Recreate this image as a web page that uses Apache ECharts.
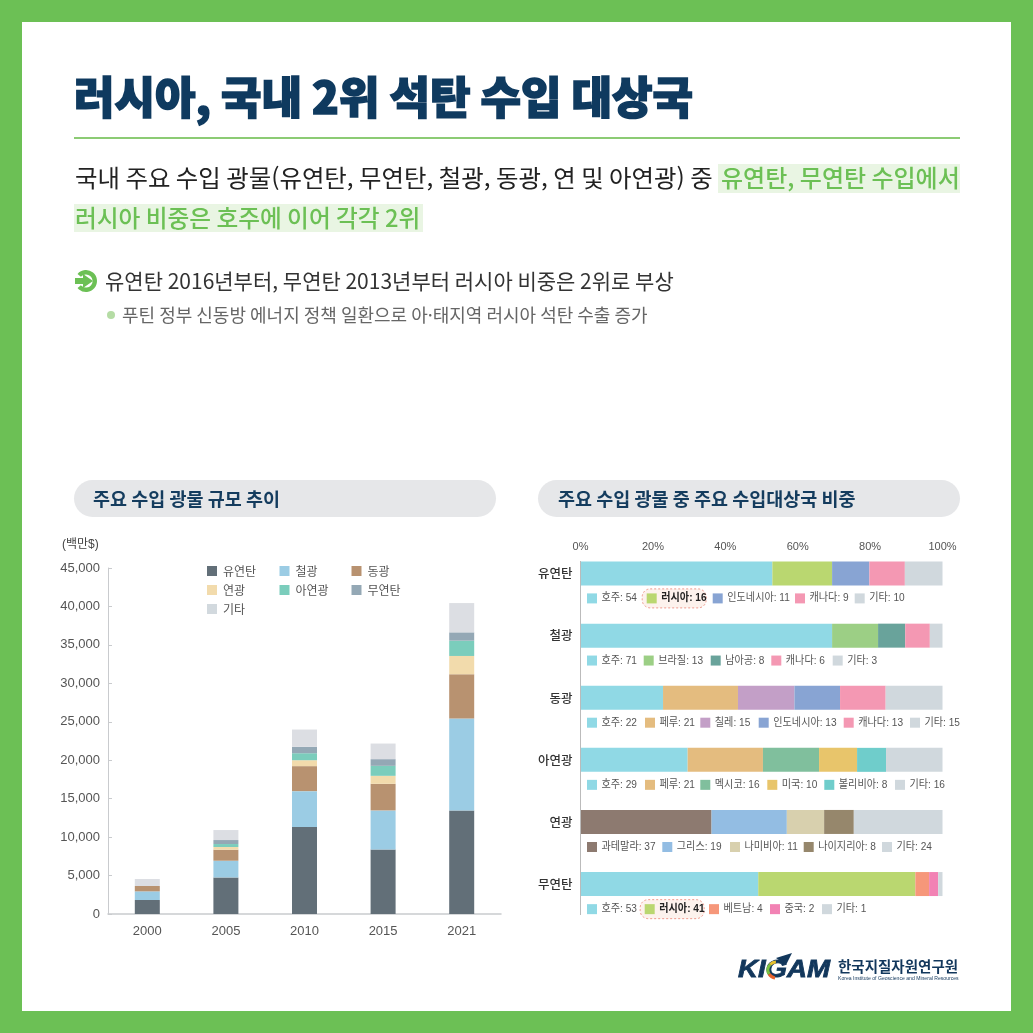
<!DOCTYPE html>
<html lang="ko">
<head>
<meta charset="utf-8">
<title>러시아, 국내 2위 석탄 수입 대상국</title>
<style>
	html, body { margin: 0; padding: 0; background: #fff; }
	#main { width: 1033px; height: 1033px; }
</style>
<script src="https://cdn.jsdelivr.net/npm/echarts@6/dist/echarts.min.js"></script>
</head>
<body>
<div id="main"></div>
<script>
// left chart, 백만$
const years = ["2000", "2005", "2010", "2015", "2021"];
const coal = [1820, 4760, 11300, 8400, 13470];
const iron = [1125, 2170, 4680, 5070, 11950];
const copper = [695, 1430, 3250, 3460, 5760];
const lead = [0, 350, 770, 1040, 2380];
const zinc = [0, 390, 910, 1300, 1990];
const anthracite = [0, 520, 830, 870, 1080];
const others = [910, 1300, 2250, 2030, 3810];

// right chart, one list per mineral
const minerals = ["유연탄", "철광", "동광", "아연광", "연광", "무연탄"];
const countries = [
	["호주", "러시아", "인도네시아", "캐나다", "기타"],
	["호주", "브라질", "남아공", "캐나다", "기타"],
	["호주", "페루", "칠레", "인도네시아", "캐나다", "기타"],
	["호주", "페루", "멕시코", "미국", "볼리비아", "기타"],
	["과테말라", "그리스", "나미비아", "나이지리아", "기타"],
	["호주", "러시아", "베트남", "중국", "기타"],
];
// numbers printed in the legends
const printedShares = [
	[54, 16, 11, 9, 10],
	[71, 13, 8, 6, 3],
	[22, 21, 15, 13, 13, 15],
	[29, 21, 16, 10, 8, 16],
	[37, 19, 11, 8, 24],
	[53, 41, 4, 2, 1],
];
// bar lengths as drawn, they differ a little from the printed numbers
const drawnShares = [
	[53, 16.5, 10.3, 9.8, 10.4],
	[69.5, 12.7, 7.5, 6.8, 3.5],
	[22.8, 20.7, 15.6, 12.6, 12.6, 15.7],
	[29.6, 20.8, 15.5, 10.5, 8, 15.6],
	[36.2, 20.8, 10.3, 8.2, 24.5],
	[49.1, 43.4, 3.8, 2.5, 1.2],
];

const countryColors = {
	호주: "#90d9e5", 러시아: "#bad770", 인도네시아: "#88a4d3", 캐나다: "#f498b3", 기타: "#d0d8dd",
	브라질: "#9ccf85", 남아공: "#69a39b", 페루: "#e4bc7f", 칠레: "#c39fc7", 멕시코: "#80bf9d",
	미국: "#e8c56b", 볼리비아: "#6fcdcb", 과테말라: "#8d7a70", 그리스: "#93bde3", 나미비아: "#d8d0ae",
	나이지리아: "#96876c", 베트남: "#f6977a", 중국: "#f282b4",
};

const sans = '"Liberation Sans", "Noto Sans CJK KR", sans-serif';
const kr = '"Noto Sans CJK KR", sans-serif';
const legendX = [
	[587, 646.7, 712.7, 795, 854.7],
	[587, 643.7, 710.7, 771.3, 832.7],
	[587, 645, 700.3, 758.7, 843.7, 910],
	[587, 645, 700.3, 767.3, 824.3, 895],
	[587, 662.3, 730, 803.7, 882],
	[587, 644.7, 709, 770, 822],
];

function text(str, x, y, size, fill, weight, family, scaleX) {
	return {
		type: "text",
		x: x,
		y: y,
		z: 20,
		scaleX: scaleX || 1,
		style: {
			text: str,
			fontSize: size,
			fontWeight: weight || 400,
			fontFamily: family || kr,
			fill: fill,
			textAlign: "left",
			textVerticalAlign: "middle",
		},
	};
}

function rect(x, y, w, h, fill, r) {
	return { type: "rect", z: 0, shape: { x: x, y: y, width: w, height: h, r: r || 0 }, style: { fill: fill } };
}

function pageGraphics() {
	const g = [];
	g.push(rect(0, 0, 1033, 1033, "#6cc055"));
	g.push(rect(22, 22, 989, 989, "#ffffff"));
	const title = text("러시아, 국내 2위 석탄 수입 대상국", 74, 97, 44, "#0f3a5f", 900);
	title.style.stroke = "#0f3a5f";
	title.style.lineWidth = 1.6;
	g.push(title);
	g.push(rect(74, 137, 886, 2, "#8ccb74"));

	g.push(rect(718, 164, 242, 29, "#e9f5e3"));
	g.push(rect(74, 204, 349, 28, "#e9f5e3"));
	g.push(text("국내 주요 수입 광물(유연탄, 무연탄, 철광, 동광, 연 및 아연광) 중", 75, 178, 24, "#222222", 400, kr, 1.0176));
	g.push(text("유연탄, 무연탄 수입에서", 721, 178, 24, "#6cc055", 500));
	g.push(text("러시아 비중은 호주에 이어 각각 2위", 75, 218, 23.7, "#6cc055", 500));

	// arrow bullet
	g.push({ type: "arc", z: 6, shape: { cx: 86, cy: 281, r: 8.8, startAngle: -2.45, endAngle: 2.45 }, style: { fill: "none", stroke: "#6cc055", lineWidth: 4.4 } });
	g.push({ type: "polygon", z: 7, shape: { points: [[83, 274], [93, 281], [83, 288], [83, 284], [75, 284], [75, 278], [83, 278]] }, style: { fill: "#6cc055" } });
	g.push(text("유연탄 2016년부터, 무연탄 2013년부터 러시아 비중은 2위로 부상", 105, 281, 21, "#333333", 400));
	g.push({ type: "circle", z: 6, shape: { cx: 111, cy: 315, r: 4 }, style: { fill: "#b5dca5" } });
	g.push(text("푸틴 정부 신동방 에너지 정책 일환으로 아·태지역 러시아 석탄 수출 증가", 122, 315, 18, "#666666", 400));

	g.push(rect(74, 480, 422, 37, "#e6e7e9", 18.5));
	g.push(rect(538, 480, 422, 37, "#e6e7e9", 18.5));
	g.push(text("주요 수입 광물 규모 추이", 93, 499, 18.5, "#143c5e", 700));
	g.push(text("주요 수입 광물 중 주요 수입대상국 비중", 558, 499, 18.5, "#143c5e", 700));
	g.push(text("(백만$)", 62, 545, 12, "#444444", 400, sans));

	// axis line of the right chart starts at the first bar, not at the grid top
	g.push({ type: "line", z: 6, shape: { x1: 580.5, y1: 561, x2: 580.5, y2: 915 }, style: { stroke: "#bbbbbb", lineWidth: 1 } });

	minerals.forEach((mineral, i) => {
		const y = 598.4 + i * 62.15;
		countries[i].forEach((name, j) => {
			const x = legendX[i][j];
			const russia = name === "러시아";
			if (russia) {
				g.push({
					type: "rect",
					z: 6,
					shape: { x: x - 4.5, y: y - 9.5, width: 64, height: 19, r: 8 },
					style: { fill: "#fdf2ed", stroke: "#ef9a8e", lineWidth: 1, lineDash: [2, 2] },
				});
			}
			g.push(Object.assign(rect(x, y - 5, 10, 10, countryColors[name]), { z: 7 }));
			g.push(text(name + ": " + printedShares[i][j], x + 14.5, y, 11, russia ? "#222222" : "#555555", russia ? 700 : 400, sans, 0.92));
		});
	});

	// logo
	const logo = text("KIGAM", 738, 970.5, 24, "#12375c", 700, '"Liberation Sans", sans-serif', 1.15);
	logo.style.fontStyle = "italic";
	logo.style.stroke = "#12375c";
	logo.style.lineWidth = 0.8;
	g.push(logo);
	g.push({ type: "arc", z: 21, shape: { cx: 776, cy: 970, r: 8, startAngle: 2.6, endAngle: 3.9 }, style: { fill: "none", stroke: "#7cc142", lineWidth: 3 } });
	g.push({ type: "arc", z: 21, shape: { cx: 776, cy: 970, r: 8, startAngle: 1.7, endAngle: 2.6 }, style: { fill: "none", stroke: "#e8622c", lineWidth: 3 } });
	g.push({ type: "arc", z: 21, shape: { cx: 776, cy: 970, r: 8, startAngle: 3.9, endAngle: 4.7 }, style: { fill: "none", stroke: "#e9c22e", lineWidth: 3 } });
	g.push({ type: "polygon", z: 21, shape: { points: [[776, 958], [792, 953], [786, 965]] }, style: { fill: "#12375c" } });
	g.push(text("한국지질자원연구원", 838, 966.5, 14.5, "#12375c", 700));
	g.push(text("Korea Institute of Geoscience and Mineral Resources", 838, 978.5, 5.1, "#12375c", 400, sans));
	return g;
}

function leftSeries(name, values, color) {
	return { name: name, type: "bar", stack: "total", barWidth: 25, xAxisIndex: 0, yAxisIndex: 0, data: values, itemStyle: { color: color } };
}

// slot n holds the n-th country of every mineral
function rightSeries() {
	const series = [];
	for (let slot = 0; slot < 6; slot++) {
		series.push({
			name: "slot" + slot,
			type: "bar",
			stack: "share",
			barWidth: 24,
			xAxisIndex: 1,
			yAxisIndex: 1,
			data: minerals.map((m, i) => ({
				value: drawnShares[i][slot] === undefined ? 0 : drawnShares[i][slot],
				itemStyle: { color: countryColors[countries[i][slot]] || "transparent" },
			})),
		});
	}
	return series;
}

function legendColumn(left, names) {
	return {
		left: left,
		top: 564,
		orient: "vertical",
		icon: "rect",
		itemWidth: 10,
		itemHeight: 10,
		itemGap: 5,
		padding: 0,
		selectedMode: false,
		data: names,
		textStyle: { fontFamily: kr, fontSize: 12, color: "#555555", padding: [0, 0, 0, 1], lineHeight: 14 },
	};
}

const axisFont = { fontFamily: sans, fontSize: 13, color: "#555555", padding: [3, 0, 0, 0] };

const chart = echarts.init(document.getElementById("main"));
chart.setOption({
	animation: false,
	backgroundColor: "#ffffff",
	legend: [
		legendColumn(207, ["유연탄", "연광", { name: "기타", itemStyle: { color: "#d2d9de" } }]),
		legendColumn(279.5, ["철광", "아연광"]),
		legendColumn(351.5, ["동광", "무연탄"]),
	],
	grid: [
		{ left: 108, top: 568, width: 393, height: 346 },
		{ left: 580.5, top: 542.5, width: 362, height: 372.6 },
	],
	xAxis: [
		{
			type: "category",
			gridIndex: 0,
			data: years,
			axisLine: { lineStyle: { color: "#c9cbce", width: 1.5 } },
			axisTick: { inside: true, length: 4, lineStyle: { color: "#c9cbce" } },
			axisLabel: Object.assign({ margin: 8 }, axisFont),
		},
		{
			type: "value",
			gridIndex: 1,
			position: "top",
			min: 0,
			max: 100,
			interval: 20,
			axisLine: { show: false },
			axisTick: { show: false },
			splitLine: { show: false },
			axisLabel: { margin: -10, formatter: "{value}%", fontFamily: sans, fontSize: 11, color: "#555555" },
		},
	],
	yAxis: [
		{
			type: "value",
			gridIndex: 0,
			min: 0,
			max: 45000,
			interval: 5000,
			axisLine: { show: true, lineStyle: { color: "#c9cbce", width: 1 } },
			axisTick: { show: true, inside: true, length: 4, lineStyle: { color: "#c9cbce" } },
			splitLine: { show: false },
			axisLabel: Object.assign({ margin: 8, formatter: (v) => v.toLocaleString("en-US") }, axisFont),
		},
		{
			type: "category",
			gridIndex: 1,
			inverse: true,
			data: minerals,
			axisLine: { show: false },
			axisTick: { show: false },
			axisLabel: { margin: 8, fontFamily: kr, fontSize: 12.5, fontWeight: 500, color: "#333333" },
		},
	],
	series: [
		leftSeries("유연탄", coal, "#626f78"),
		leftSeries("철광", iron, "#9bcce4"),
		leftSeries("동광", copper, "#b89270"),
		leftSeries("연광", lead, "#f2dbac"),
		leftSeries("아연광", zinc, "#7bcdbc"),
		leftSeries("무연탄", anthracite, "#94a8b5"),
		leftSeries("기타", others, "#dcdee3"),
	].concat(rightSeries()),
	graphic: { elements: pageGraphics() },
});
</script>
</body>
</html>
